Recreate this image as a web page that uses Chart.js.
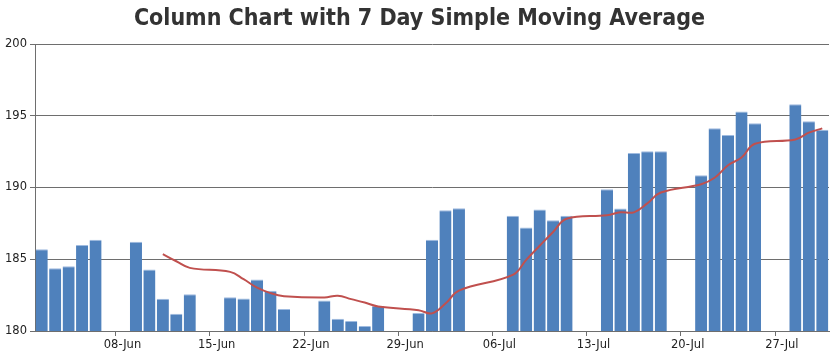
<!DOCTYPE html>
<html>
<head>
<meta charset="utf-8">
<script src="https://cdn.jsdelivr.net/npm/chart.js@4"></script>
<style>
html,body{margin:0;padding:0;background:#fff;}
#wrap{width:839px;height:360px;position:relative;}
</style>
</head>
<body>
<div id="wrap"><canvas id="c" width="839" height="360"></canvas></div>
<script>
const categories = ["02-Jun","03-Jun","04-Jun","05-Jun","06-Jun","07-Jun","08-Jun","09-Jun","10-Jun","11-Jun",
"12-Jun","13-Jun","14-Jun","15-Jun","16-Jun","17-Jun","18-Jun","19-Jun","20-Jun","21-Jun",
"22-Jun","23-Jun","24-Jun","25-Jun","26-Jun","27-Jun","28-Jun","29-Jun","30-Jun","01-Jul",
"02-Jul","03-Jul","04-Jul","05-Jul","06-Jul","07-Jul","08-Jul","09-Jul","10-Jul","11-Jul",
"12-Jul","13-Jul","14-Jul","15-Jul","16-Jul","17-Jul","18-Jul","19-Jul","20-Jul","21-Jul",
"22-Jul","23-Jul","24-Jul","25-Jul","26-Jul","27-Jul","28-Jul","29-Jul","30-Jul"];

const priceValues = [185.69,184.38,184.52,185.99,186.36,null,null,186.22,184.29,182.24,
181.21,182.56,null,null,182.36,182.26,183.59,182.80,181.54,null,
null,182.12,180.86,180.70,180.35,181.75,null,null,181.26,186.36,
188.41,188.55,null,null,null,188.04,187.22,188.46,187.71,188.04,
null,null,189.88,188.53,192.40,192.52,192.52,null,null,190.86,
194.13,193.66,195.29,194.48,null,null,195.80,194.62,194.03];

const smaValues = [null,null,null,null,null,null,null,null,null,185.35,
184.86,184.40,null,null,184.12,183.61,183.02,182.64,182.43,null,
null,182.33,182.46,182.22,181.98,181.71,null,null,181.45,181.23,
181.91,182.81,null,null,null,183.91,184.96,185.94,186.90,187.82,
null,null,188.06,188.27,188.27,188.89,189.65,null,null,190.23,
190.68,191.55,192.09,193.05,null,null,193.35,193.82,194.12];

const xTickLabels = ["08-Jun","15-Jun","22-Jun","29-Jun","06-Jul","13-Jul","20-Jul","27-Jul"];
const yTicks = [180,185,190,195,200];
const titleText = 'Column Chart with 7 Day Simple Moving Average';

const gridCol = '#6e6e6e';
const tickFont = {family:'DejaVu Sans', size:11.5};

const centeredTitle = {
  id:'centeredTitle',
  afterDraw(chart){
    const ctx = chart.ctx;
    ctx.save();
    ctx.font = 'bold 23px "DejaVu Sans Condensed"';
    ctx.fillStyle = '#333333';
    ctx.textAlign = 'center';
    ctx.textBaseline = 'alphabetic';
    ctx.fillText(titleText, chart.width/2, 25);
    ctx.restore();
  }
};

new Chart(document.getElementById('c'), {
  data: {
    labels: categories,
    datasets: [
      {
        type:'line', data: smaValues, order:0,
        borderColor:'#C0504E', borderWidth:2, pointRadius:0, pointHoverRadius:0,
        tension:0.4, spanGaps:true, fill:false
      },
      {
        type:'bar', data: priceValues, order:1,
        backgroundColor:'#4F81BC',
        borderColor:'#9fbbe0',
        borderWidth:{top:1,left:0,right:0,bottom:0},
        borderSkipped:'bottom',
        categoryPercentage:1, barPercentage:0.9
      }
    ]
  },
  plugins:[centeredTitle],
  options: {
    responsive:false, animation:false, devicePixelRatio:1,
    layout:{padding:{left:0,right:10,top:44,bottom:0}},
    plugins:{
      legend:{display:false}, tooltip:{enabled:false}, title:{display:false}
    },
    scales:{
      x:{
        type:'category', offset:true,
        grid:{display:true, drawOnChartArea:false, drawTicks:true, tickLength:5,
          color:(ctx)=> (ctx.tick && xTickLabels.includes(categories[ctx.index])) ? gridCol : 'rgba(0,0,0,0)'},
        border:{display:true, color:gridCol, width:1},
        ticks:{autoSkip:false, maxRotation:0, minRotation:0, padding:2, color:'#222', font:tickFont,
          callback:(v,i)=> xTickLabels.includes(categories[i]) ? categories[i] : ''},
        afterFit:(s)=>{ s.height = 29; }
      },
      y:{
        min:yTicks[0], max:yTicks[yTicks.length-1],
        afterBuildTicks:(s)=>{ s.ticks = yTicks.map(v=>({value:v})); },
        grid:{color:gridCol, tickLength:5, drawTicks:true},
        border:{display:true, color:gridCol, width:1},
        ticks:{padding:3, color:'#222', font:tickFont},
        afterFit:(s)=>{ s.width = 35; }
      }
    }
  }
});
</script>
</body>
</html>
